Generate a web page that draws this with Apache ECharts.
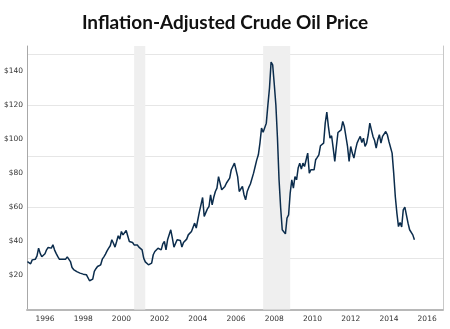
<!DOCTYPE html>
<html>
<head>
<meta charset="utf-8">
<script src="https://cdn.jsdelivr.net/npm/echarts@6/dist/echarts.min.js"></script>
<style>
html,body{margin:0;padding:0;background:#fff;}
#chart{width:450px;height:329px;}
</style>
</head>
<body>
<div id="chart"></div>
<script>
// Monthly inflation-adjusted crude oil price (USD), first value = Aug 1995
const firstMonth = [1995, 8];
const prices = [
  28.2, 28.0, 26.9, 29.2, 28.8,
  29.6, 31.5, 36.1, 33.0, 31.0, 32.0, 32.8, 35.1, 36.5, 37.5, 36.1, 38.1,
  35.1, 33.0, 31.2, 29.6, 30.2, 29.5, 29.2, 29.6, 31.0, 30.0, 28.2, 24.7,
  23.5, 22.8, 22.3, 22.0, 21.4, 20.4, 20.8, 21.4, 20.5, 19.4, 16.9, 17.4,
  17.9, 22.4, 24.0, 25.3, 25.5, 26.3, 29.6, 31.0, 32.6, 34.5, 36.1, 37.5,
  41.0, 39.0, 36.7, 40.0, 43.4, 41.4, 45.9, 43.9, 45.0, 46.5, 47.3, 40.0,
  39.0, 39.4, 38.0, 37.0, 37.9, 36.7, 37.0, 35.1, 30.2, 28.0, 26.9, 26.3,
  26.5, 27.3, 32.2, 34.1, 35.1, 36.0, 37.0, 35.1, 38.6, 40.0, 35.1, 41.0,
  44.0, 46.9, 42.0, 36.7, 37.5, 41.0, 40.0, 40.6, 36.7, 39.4, 40.5, 41.4,
  43.9, 45.0, 45.9, 46.9, 50.8, 47.9, 52.8, 57.6, 56.7, 65.9, 54.7, 57.0,
  59.2, 60.6, 67.5, 61.6, 66.0, 69.4, 71.4, 78.2, 77.6, 70.4, 71.5, 72.4,
  74.4, 73.4, 77.3, 82.2, 83.2, 86.1, 86.7, 78.2, 69.4, 70.4, 72.4, 67.5,
  64.5, 69.4, 71.8, 73.8, 73.4, 80.2, 84.1, 88.0, 91.0, 97.9, 106.7, 104.3,
  105.1, 109.6, 120.4, 130.2, 145.5, 143.9, 132.5, 120.4, 101.0, 76.3, 60.0, 46.9,
  46.5, 44.5, 53.8, 55.7, 68.5, 76.3, 71.4, 78.2, 76.3, 83.2, 86.1, 82.6,
  86.1, 84.1, 88.1, 92.0, 80.2, 82.2, 83.2, 82.2, 88.1, 89.5, 91.0, 96.3,
  96.9, 97.9, 109.6, 116.1, 107.6, 100.8, 102.2, 94.9, 87.1, 95.9, 104.1, 104.7,
  105.7, 110.6, 107.6, 108.6, 95.9, 87.1, 95.9, 92.0, 89.1, 93.9, 97.9, 100.0,
  101.8, 98.2, 100.8, 95.9, 97.9, 102.8, 109.6, 105.7, 101.8, 99.4, 94.9, 99.8,
  102.8, 97.9, 101.8, 100.8, 104.7, 102.8, 98.8, 97.9, 92.0, 80.2, 66.5, 56.7,
  48.8, 51.2, 48.5, 58.6, 60.2, 59.6, 50.8, 46.9, 45.9, 43.9, 41.0
];
// Recession periods (shaded), [startYear, startMonth, endYear, endMonth]
const recessions = [[2001, 3, 2001, 10], [2007, 12, 2009, 5]];
const yearLabels = [1996, 1998, 2000, 2002, 2004, 2006, 2008, 2010, 2012, 2014, 2016];
const priceTicks = [20, 40, 60, 80, 100, 120, 140];

const toYear = (y, m) => y + (m - 1) / 12;
const seriesData = prices.map((v, i) => {
  const idx = firstMonth[1] - 1 + i;
  const y = firstMonth[0] + Math.floor(idx / 12);
  const m = (idx % 12) + 1;
  return [toYear(y, m), v];
});

const chart = echarts.init(document.getElementById('chart'), null, {renderer: 'canvas'});
const axisFont = {fontFamily: 'DejaVu Sans', fontSize: 7.5, color: '#333'};
chart.setOption({
  animation: false,
  backgroundColor: '#fff',
  title: {
    text: 'Inflation-Adjusted Crude Oil Price',
    left: 'center',
    top: 8,
    textStyle: {fontFamily: 'Lato', fontWeight: 'bold', fontSize: 19, color: '#111'}
  },
  grid: {left: 27, right: 7, top: 46, bottom: 19.5, containLabel: false},
  xAxis: {
    type: 'value',
    min: 1995.56,
    max: 2017.33,
    axisLine: {show: true, lineStyle: {color: '#b8b8b8', width: 2}},
    axisTick: {show: false},
    splitLine: {show: false},
    axisLabel: {
      ...axisFont,
      margin: 6,
      customValues: yearLabels.map(y => y + 0.5),
      formatter: v => String(Math.floor(v))
    }
  },
  yAxis: [{
    type: 'value',
    min: 0,
    max: 155,
    axisLine: {show: true, lineStyle: {color: '#a8a8a8', width: 1}},
    axisTick: {show: false},
    splitLine: {show: true, showMinLine: false, showMaxLine: false, lineStyle: {color: '#e6e6e6', width: 1}},
    axisLabel: {
      ...axisFont,
      margin: 4,
      customValues: priceTicks,
      formatter: v => '$' + v
    }
  }, {
    type: 'value',
    position: 'right',
    min: 0,
    max: 155,
    axisLine: {show: true, lineStyle: {color: '#c8c8c8', width: 1}},
    axisTick: {show: false},
    axisLabel: {show: false},
    splitLine: {show: false}
  }],
  series: [{
    type: 'line',
    data: seriesData,
    showSymbol: false,
    symbol: 'none',
    lineStyle: {color: '#0b2c4c', width: 1.5},
    z: 3,
    markArea: {
      silent: true,
      itemStyle: {color: '#efefef'},
      data: recessions.map(r => [{xAxis: toYear(r[0], r[1])}, {xAxis: toYear(r[2], r[3])}])
    }
  }]
});
</script>
</body>
</html>
